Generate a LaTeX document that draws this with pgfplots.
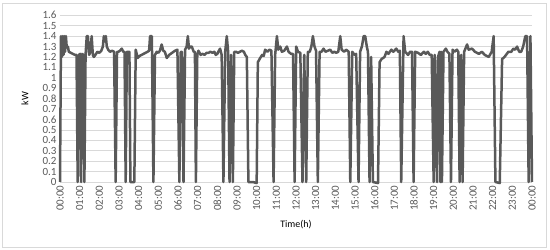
\documentclass[border=0pt]{standalone}
\usepackage{fontspec}
\setmainfont{Carlito}
\usepackage{pgfplots}
\pgfplotsset{compat=1.18}
\definecolor{gridgray}{HTML}{D9D9D9}
\definecolor{labelgray}{HTML}{595959}
\definecolor{linegray}{HTML}{595959}
\definecolor{framegray}{HTML}{D9D9D9}
\begin{document}
\begin{tikzpicture}
\path (-60bp,-68bp) rectangle (490bp,182bp);
\draw[framegray, line width=0.75bp] (-58bp,-65bp) rectangle (486bp,179bp);
\begin{axis}[
  at={(0,0)}, anchor=origin,
  scale only axis, width=472bp, height=166.7bp,
  xmin=0, xmax=24, ymin=0, ymax=1.6,
  clip=false,
  axis line style={draw=none},
  tick style={draw=none},
  ymajorgrids, major grid style={gridgray, line width=0.75bp},
  ytick={0,0.1,0.2,0.3,0.4,0.5,0.6,0.7,0.8,0.9,1,1.1,1.2,1.3,1.4,1.5,1.6},
  yticklabels={0,0.1,0.2,0.3,0.4,0.5,0.6,0.7,0.8,0.9,1,1.1,1.2,1.3,1.4,1.5,1.6},
  xtick={0,1,...,24},
  xticklabels={00:00,01:00,02:00,03:00,04:00,05:00,06:00,07:00,08:00,09:00,10:00,11:00,12:00,13:00,14:00,15:00,16:00,17:00,18:00,19:00,20:00,21:00,22:00,23:00,00:00},
  tick label style={font=\fontsize{11bp}{12bp}\selectfont, text=labelgray},
  xticklabel style={rotate=90, anchor=east},
  label style={font=\fontsize{11bp}{12bp}\selectfont, text=labelgray},
  xlabel={Time(h)}, ylabel={kW},
  every axis x label/.style={at={(rel axis cs:0.5,0)}, yshift=-43bp, anchor=center},
  every axis y label/.style={at={(rel axis cs:0,0.5)}, xshift=-35bp, rotate=90, anchor=center},
]
\addplot[linegray, line width=2.5bp, line join=round] table {
0.00 0
0.05 1.40
0.10 1.20
0.14 1.40
0.18 1.22
0.22 1.40
0.26 1.25
0.30 1.40
0.34 1.30
0.40 1.30
0.45 1.25
0.55 1.24
0.65 1.23
0.76 1.22
0.84 1.22
0.90 0
0.96 1.22
1.02 1.23
1.07 0
1.13 1.23
1.19 1.22
1.24 0
1.30 1.22
1.36 1.40
1.42 1.40
1.48 1.22
1.55 1.25
1.61 1.40
1.67 1.22
1.72 1.20
1.80 1.22
1.90 1.25
2.00 1.24
2.10 1.26
2.18 1.30
2.23 1.40
2.28 1.35
2.33 1.40
2.38 1.30
2.45 1.27
2.54 1.25
2.65 1.26
2.75 1.25
2.83 0
2.90 1.25
2.97 1.25
3.05 1.26
3.14 1.28
3.22 1.25
3.28 1.25
3.34 0
3.40 1.25
3.47 1.25
3.53 1.25
3.58 0
3.78 0
3.85 1.27
3.95 1.19
4.05 1.21
4.15 1.22
4.25 1.23
4.35 1.24
4.45 1.25
4.53 1.26
4.58 1.40
4.67 1.40
4.75 0
4.83 1.22
4.92 1.25
5.00 1.24
5.08 1.26
5.17 1.32
5.25 1.26
5.33 1.25
5.43 1.19
5.55 1.22
5.70 1.24
5.85 1.26
5.97 1.27
6.07 0
6.14 1.25
6.20 1.25
6.28 0
6.36 1.27
6.44 1.30
6.50 1.40
6.56 1.28
6.62 1.30
6.70 1.30
6.80 1.25
6.86 1.25
6.91 0
6.98 1.22
7.04 1.26
7.15 1.22
7.25 1.23
7.35 1.22
7.45 1.24
7.55 1.24
7.65 1.25
7.75 1.24
7.85 1.25
7.92 1.22
8.00 1.23
8.08 1.26
8.14 1.28
8.22 1.22
8.31 0
8.40 1.25
8.48 1.40
8.55 1.25
8.62 0
8.70 1.22
8.79 0
8.86 1.25
8.95 1.25
9.05 1.24
9.15 1.25
9.25 1.26
9.35 1.25
9.42 1.22
9.50 1.20
9.58 0
9.80 0
10.00 -0.01
10.06 1.15
10.18 1.19
10.28 1.22
10.36 1.21
10.43 1.27
10.55 1.25
10.65 1.27
10.75 1.26
10.86 0
10.94 1.22
11.03 1.40
11.10 1.27
11.20 1.30
11.28 1.25
11.40 1.26
11.54 1.30
11.62 1.25
11.75 1.23
11.85 1.23
11.93 0
12.01 1.30
12.10 1.25
12.22 1.24
12.33 0
12.42 1.22
12.52 0
12.60 1.25
12.70 1.25
12.78 1.30
12.86 1.40
12.94 1.30
13.02 1.26
13.11 0
13.20 1.25
13.30 1.25
13.40 1.28
13.50 1.25
13.62 1.26
13.74 1.27
13.85 1.24
13.95 1.25
14.05 1.24
14.15 1.25
14.25 1.40
14.32 1.27
14.45 1.25
14.55 1.27
14.68 1.25
14.76 0
14.86 1.25
14.98 1.22
15.06 1.23
15.18 0
15.26 1.25
15.35 1.30
15.44 1.40
15.52 1.40
15.60 1.30
15.66 1.25
15.74 0
15.82 1.20
15.91 0
16.17 -0.01
16.25 1.15
16.35 1.18
16.50 1.20
16.60 1.25
16.70 1.23
16.85 1.27
16.95 1.25
17.10 1.28
17.20 1.25
17.28 1.26
17.35 0
17.47 1.40
17.55 1.25
17.70 1.22
17.80 1.25
17.90 1.25
17.98 0
18.06 1.25
18.20 1.24
18.35 1.22
18.50 1.25
18.60 1.23
18.70 1.25
18.80 1.22
18.90 1.22
19.00 0
19.05 1.22
19.17 0
19.22 1.20
19.30 1.25
19.34 0
19.38 1.25
19.42 0
19.50 1.25
19.62 1.28
19.70 1.25
19.80 1.23
19.88 0
19.96 1.27
20.06 1.25
20.18 1.27
20.25 1.25
20.32 0
20.40 1.22
20.47 0
20.55 1.25
20.70 1.32
20.78 1.27
20.95 1.28
21.10 1.25
21.30 1.23
21.45 1.25
21.60 1.22
21.80 1.20
21.95 1.25
22.05 1.40
22.14 0
22.36 -0.01
22.48 1.18
22.60 1.20
22.80 1.25
22.95 1.25
23.05 1.28
23.15 1.27
23.24 1.30
23.35 1.25
23.45 1.25
23.55 1.30
23.66 1.40
23.75 1.40
23.83 0
23.92 1.40
24.00 0
};
\end{axis}
\end{tikzpicture}
\end{document}
